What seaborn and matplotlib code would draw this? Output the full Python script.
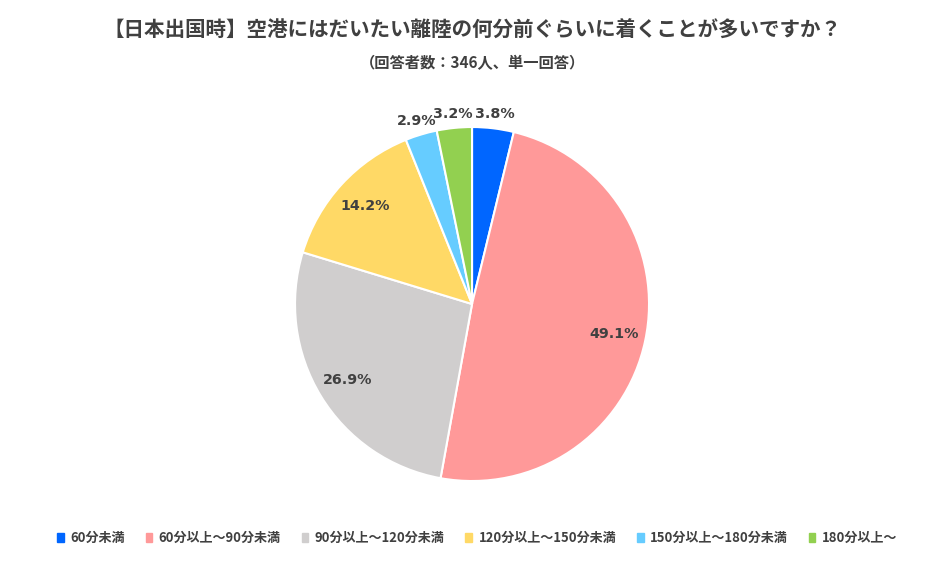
import numpy as np
import matplotlib
matplotlib.use("Agg")
import matplotlib.pyplot as plt
from matplotlib.font_manager import FontProperties
import seaborn as sns

# Data
categories = ["60分未満", "60分以上～90分未満", "90分以上～120分未満",
              "120分以上～150分未満", "150分以上～180分未満", "180分以上～"]
shares = [3.8, 49.1, 26.9, 14.2, 2.9, 3.2]
colors = ["#0066FF", "#FF9999", "#D0CECE", "#FFD966", "#66CCFF", "#92D050"]

title = "【日本出国時】空港にはだいたい離陸の何分前ぐらいに着くことが多いですか？"
subtitle = "（回答者数：346人、単一回答）"

sns.set_theme(style="white")
plt.rcParams["font.family"] = ["Noto Sans CJK JP", "DejaVu Sans"]
text_color = "#404040"

fig = plt.figure(figsize=(9.45, 5.63), dpi=100)
ax = fig.add_axes([0.3122, 0.1456, 0.3746, 0.6288])

palette = sns.color_palette(colors)
wedges, _ = ax.pie(shares, colors=palette, startangle=90, counterclock=False,
                   wedgeprops=dict(edgecolor="white", linewidth=1.5), radius=1.0)
ax.set_xlim(-1, 1)
ax.set_ylim(-1, 1)
ax.set_aspect("equal")

# percentage labels: small slices outside, large ones inside
pct_font = FontProperties(family="DejaVu Sans", weight="bold", size=10.3)
for w, v in zip(wedges, shares):
    ang = np.deg2rad((w.theta1 + w.theta2) / 2)
    r = 1.095 if v < 5 else 0.82
    ax.text(r * np.cos(ang), r * np.sin(ang) - (0.015 if v < 5 else 0), f"{v:.1f}%",
            ha="center", va="center", fontproperties=pct_font,
            color=text_color)

fig.text(0.5, 0.947, title, ha="center", va="center", fontsize=14.8,
         fontweight="bold", color=text_color)
fig.text(0.5, 0.888, subtitle, ha="center", va="center", fontsize=11,
         fontweight="bold", color=text_color)

handles = [plt.Rectangle((0, 0), 1, 1, color=c) for c in palette]
leg = fig.legend(handles, categories, loc="center", bbox_to_anchor=(0.505, 0.044),
                 ncol=6, frameon=False, handlelength=0.5,
                 handleheight=0.7, handletextpad=0.5, columnspacing=1.6,
                 prop={"weight": "bold", "size": 9.4})
for t in leg.get_texts():
    t.set_color(text_color)

fig.savefig("out.png", dpi=100)
